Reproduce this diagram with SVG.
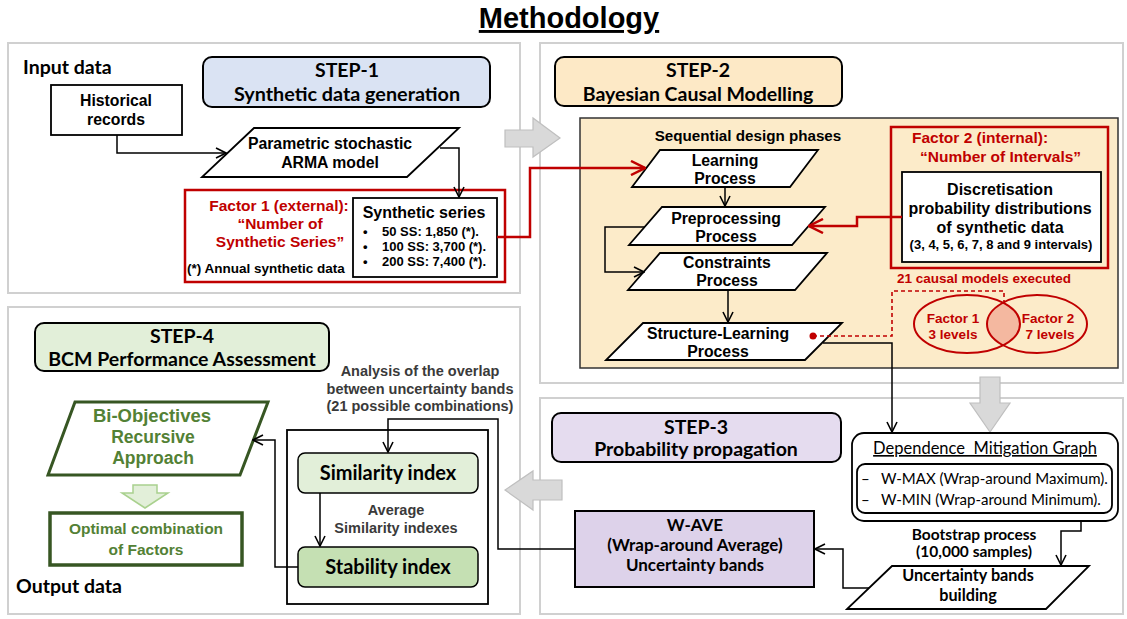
<svg xmlns="http://www.w3.org/2000/svg" width="1127" height="619" viewBox="0 0 1127 619">
<style>
.a{font-family:"Liberation Sans",Arial,sans-serif;font-weight:bold}
.c{font-family:Lato,"Open Sans",sans-serif;font-weight:bold}
.cr{font-family:Lato,"Open Sans",sans-serif;font-weight:normal}
.m{text-anchor:middle}
.red{fill:#c00000}
.grn{fill:#538135}
.gry{fill:#3a3a3a}
.panel{fill:none;stroke:#d0d0d0;stroke-width:2}
.box{fill:#fff;stroke:#000;stroke-width:1.8}
.step{stroke:#000;stroke-width:2}
.ln{fill:none;stroke:#000;stroke-width:1.5}
.rln{fill:none;stroke:#c00000;stroke-width:2.5}
.gblk{fill:#d9d9d9;stroke:#bfbfbf;stroke-width:1.2}
</style>
<defs>
<marker id="ah" viewBox="0 0 12 12" refX="11" refY="6" markerWidth="12" markerHeight="12" markerUnits="userSpaceOnUse" orient="auto"><path d="M1,1 L11,6 L1,11" fill="none" stroke="#000" stroke-width="1.6"/></marker>
<marker id="rah" viewBox="0 0 16 16" refX="15" refY="8" markerWidth="16" markerHeight="16" markerUnits="userSpaceOnUse" orient="auto"><path d="M1,1 L15,8 L1,15" fill="none" stroke="#c00000" stroke-width="2.5"/></marker>
<clipPath id="clipE1"><ellipse cx="967" cy="324" rx="53" ry="29"/></clipPath>
</defs>
<rect width="1127" height="619" fill="#fff"/>

<text x="569" y="28" class="a m" font-size="29" text-decoration="underline">Methodology</text>

<g id="panels">
<rect class="panel" x="8" y="43" width="512" height="250"/>
<rect class="panel" x="8" y="307" width="512" height="307"/>
<rect class="panel" x="540" y="43" width="583" height="340"/>
<rect class="panel" x="540" y="398" width="583" height="216"/>
</g>

<g id="block-arrows">
<polygon class="gblk" points="505,130 533,130 533,118 560,138 533,157 533,147 505,147"/>
<polygon class="gblk" points="980,377 1000,377 1000,403 1010,403 990,432 970,403 980,403"/>
<polygon class="gblk" points="562,480 533,480 533,471 505,490 533,510 533,500 562,500"/>
<polygon points="133,485 157,485 157,493 168,493 145,508 122,493 133,493" fill="#e2efd9" stroke="#a9d18e" stroke-width="1.5"/>
</g>

<g id="input-label"><text x="23" y="74" class="c" font-size="19.5">Input data</text></g>

<g id="step1">
<rect class="step" x="203" y="57" width="287" height="50" rx="9" fill="#dae3f3"/>
<text x="347" y="77" class="c m" font-size="19.5">STEP-1</text>
<text x="347" y="101" class="c m" font-size="19.8">Synthetic data generation</text>
</g>

<g id="historical">
<rect class="box" x="51" y="85" width="131" height="50"/>
<text x="116" y="106" class="a m" font-size="15.8">Historical</text>
<text x="116" y="125" class="a m" font-size="15.8">records</text>
</g>

<g id="arma">
<polygon class="box" points="254,128 459,128 407,177 202,177"/>
<text x="330" y="149" class="a m" font-size="15.8">Parametric stochastic</text>
<text x="330" y="168" class="a m" font-size="15.8">ARMA model</text>
</g>

<g id="factor1">
<rect x="185" y="190" width="320" height="92" fill="none" stroke="#c00000" stroke-width="2.5"/>
<text x="279" y="211" class="a m red" font-size="15.5">Factor 1 (external):</text>
<text x="280" y="229" class="a m red" font-size="15.5">“Number of</text>
<text x="280" y="247" class="a m red" font-size="15.5">Synthetic Series”</text>
<text x="187" y="273" class="a" font-size="13.5">(*) Annual synthetic data</text>
</g>

<g id="synthetic-series">
<rect class="box" x="353" y="198" width="144" height="79" stroke-width="2"/>
<text x="424" y="218" class="a m" font-size="16">Synthetic series</text>
<text x="363" y="236" class="a" font-size="13">•</text>
<text x="363" y="251" class="a" font-size="13">•</text>
<text x="363" y="266" class="a" font-size="13">•</text>
<text x="382" y="236" class="a" font-size="13">50 SS: 1,850 (*).</text>
<text x="382" y="251" class="a" font-size="13">100 SS: 3,700 (*).</text>
<text x="382" y="266" class="a" font-size="13">200 SS: 7,400 (*).</text>
</g>

<g id="step2">
<rect class="step" x="555" y="57" width="287" height="49" rx="9" fill="#fde9c6"/>
<text x="698" y="77" class="c m" font-size="19.5">STEP-2</text>
<text x="698" y="101" class="c m" font-size="19.5">Bayesian Causal Modelling</text>
</g>

<g id="bcm-container">
<rect x="580" y="118" width="538" height="250" fill="#fcebc9" stroke="#333" stroke-width="1.5"/>
<text x="748" y="141" class="a m" font-size="15.2">Sequential design phases</text>
</g>

<g id="learning">
<polygon class="box" points="660,150 818,150 790,187 632,187"/>
<text x="725" y="166" class="a m" font-size="15.8">Learning</text>
<text x="725" y="184" class="a m" font-size="15.8">Process</text>
</g>
<g id="preprocessing">
<polygon class="box" points="662,207 825,207 792,245 629,245"/>
<text x="726" y="224" class="a m" font-size="15.8">Preprocessing</text>
<text x="726" y="242" class="a m" font-size="15.8">Process</text>
</g>
<g id="constraints">
<polygon class="box" points="660,253 827,253 795,290 628,290"/>
<text x="727" y="268" class="a m" font-size="15.8">Constraints</text>
<text x="727" y="286" class="a m" font-size="15.8">Process</text>
</g>
<g id="structure-learning">
<polygon class="box" points="643,323 842,323 805,360 606,360"/>
<text x="718" y="339" class="a m" font-size="15.8">Structure-Learning</text>
<text x="718" y="357" class="a m" font-size="15.8">Process</text>
</g>

<g id="factor2">
<rect x="891" y="127" width="217" height="141" fill="none" stroke="#c00000" stroke-width="2.5"/>
<text x="912" y="143" class="a red" font-size="15.5">Factor 2 (internal):</text>
<text x="920" y="162" class="a red" font-size="15.5">“Number of Intervals”</text>
</g>
<g id="discretisation">
<rect class="box" x="902" y="172" width="199" height="90" stroke-width="2"/>
<text x="1000" y="195" class="a m" font-size="16">Discretisation</text>
<text x="1000" y="214" class="a m" font-size="16">probability distributions</text>
<text x="1000" y="233" class="a m" font-size="16">of synthetic data</text>
<text x="1001" y="249" class="a m" font-size="13">(3, 4, 5, 6, 7, 8 and 9 intervals)</text>
</g>

<g id="causal-models">
<text x="984" y="283" class="a m red" font-size="13.5">21 causal models executed</text>
<ellipse cx="1037" cy="324" rx="50" ry="29" fill="#f4b8a0" clip-path="url(#clipE1)"/>
<ellipse cx="967" cy="324" rx="53" ry="29" fill="none" stroke="#c00000" stroke-width="2"/>
<ellipse cx="1037" cy="324" rx="50" ry="29" fill="none" stroke="#c00000" stroke-width="2"/>
<text x="953" y="323" class="a m red" font-size="13.5">Factor 1</text>
<text x="953" y="339" class="a m red" font-size="13.5">3 levels</text>
<text x="1048" y="323" class="a m red" font-size="13.5">Factor 2</text>
<text x="1050" y="339" class="a m red" font-size="13.5">7 levels</text>
</g>

<g id="step3">
<rect class="step" x="552" y="413" width="289" height="49" rx="9" fill="#e5dcef"/>
<text x="696" y="434" class="c m" font-size="19.5">STEP-3</text>
<text x="696" y="456" class="c m" font-size="19.5">Probability propagation</text>
</g>

<g id="dependence">
<rect x="852" y="433" width="266" height="88" rx="12" fill="#fff" stroke="#000" stroke-width="1.8"/>
<text x="985" y="454" class="cr m" font-size="16.5" text-decoration="underline" style="white-space:pre">Dependence  Mitigation Graph</text>
<rect x="857" y="464" width="255" height="49" rx="8" fill="#fff" stroke="#000" stroke-width="1.8"/>
<text x="861" y="484" class="cr" font-size="15" style="white-space:pre">–   W-MAX (Wrap-around Maximum).</text>
<text x="861" y="505" class="cr" font-size="15" style="white-space:pre">–   W-MIN (Wrap-around Minimum).</text>
</g>

<g id="bootstrap">
<text x="974" y="540" class="c m" font-size="15.5">Bootstrap process</text>
<text x="974" y="557" class="c m" font-size="15.5">(10,000 samples)</text>
</g>

<g id="uncertainty-building">
<polygon class="box" points="892,566 1089,566 1046,609 847,609"/>
<text x="968" y="581" class="c m" font-size="16.2">Uncertainty bands</text>
<text x="968" y="601" class="c m" font-size="16.2">building</text>
</g>

<g id="w-ave">
<rect x="575" y="511" width="239" height="76" fill="#ddd2ea" stroke="#000" stroke-width="2"/>
<text x="695" y="531" class="c m" font-size="17">W-AVE</text>
<text x="695" y="551" class="c m" font-size="17">(Wrap-around Average)</text>
<text x="695" y="571" class="c m" font-size="17">Uncertainty bands</text>
</g>

<g id="step4">
<rect class="step" x="35" y="323" width="294" height="48" rx="9" fill="#e2efd9"/>
<text x="182" y="343" class="c m" font-size="19.5">STEP-4</text>
<text x="182" y="366" class="c m" font-size="19.5">BCM Performance Assessment</text>
</g>

<g id="analysis-label">
<text x="420" y="376" class="a m gry" font-size="14.5">Analysis of the overlap</text>
<text x="420" y="394" class="a m gry" font-size="14.5">between uncertainty bands</text>
<text x="420" y="411" class="a m gry" font-size="14.5">(21 possible combinations)</text>
</g>

<g id="indexes">
<rect x="287" y="430" width="201" height="174" fill="none" stroke="#000" stroke-width="1.8"/>
<rect x="298" y="453" width="180" height="40" rx="7" fill="#e2efd9" stroke="#000" stroke-width="1.5"/>
<text x="388" y="480" class="c m" font-size="20">Similarity index</text>
<text x="396" y="515" class="a m gry" font-size="14.5">Average</text>
<text x="396" y="533" class="a m gry" font-size="14.5">Similarity indexes</text>
<rect x="298" y="547" width="180" height="40" rx="7" fill="#c5e0b3" stroke="#000" stroke-width="1.5"/>
<text x="388" y="574" class="c m" font-size="20">Stability index</text>
</g>

<g id="bi-objectives">
<polygon points="75,402 268,402 240,475 48,475" fill="#fff" stroke="#375623" stroke-width="3"/>
<text x="152" y="422" class="a m grn" font-size="18.5">Bi-Objectives</text>
<text x="153" y="443" class="a m grn" font-size="17.5">Recursive</text>
<text x="153" y="464" class="a m grn" font-size="17.5">Approach</text>
</g>

<g id="optimal">
<rect x="50" y="513" width="192" height="52" fill="#fff" stroke="#375623" stroke-width="3.5"/>
<text x="146" y="534" class="a m grn" font-size="15.5">Optimal combination</text>
<text x="146" y="555" class="a m grn" font-size="15.5">of Factors</text>
</g>

<g id="output-label"><text x="16" y="593" class="c" font-size="19.5">Output data</text></g>

<g id="connectors">
<path class="ln" d="M117,135 V153 H226" marker-end="url(#ah)"/>
<path class="ln" d="M440,148 H459 V197" marker-end="url(#ah)"/>
<path class="rln" d="M497,237 H530 V168 H645" marker-end="url(#rah)"/>
<path class="ln" d="M725,187 V206" marker-end="url(#ah)"/>
<path class="ln" d="M645,227 H605 V272 H644" marker-end="url(#ah)"/>
<path class="ln" d="M728,290 V322" marker-end="url(#ah)"/>
<path class="rln" d="M902,217 H857 V226 H809" marker-end="url(#rah)"/>
<circle cx="813" cy="336" r="3.5" fill="#c00000"/>
<path d="M813,336 H892 V291 H1004 V303" fill="none" stroke="#c00000" stroke-width="1.6" stroke-dasharray="4,3"/>
<path class="ln" d="M823,343 H892 V432" marker-end="url(#ah)"/>
<path class="ln" d="M1081,521 V531 H1061 V565" marker-end="url(#ah)"/>
<path class="ln" d="M869,588 H843 V549 H815" marker-end="url(#ah)"/>
<path class="ln" d="M575,549 H498 V419 H388 V452" marker-end="url(#ah)"/>
<path class="ln" d="M320,493 V546" marker-end="url(#ah)"/>
<path class="ln" d="M298,567 H275 V440 H253" marker-end="url(#ah)"/>
</g>
</svg>
